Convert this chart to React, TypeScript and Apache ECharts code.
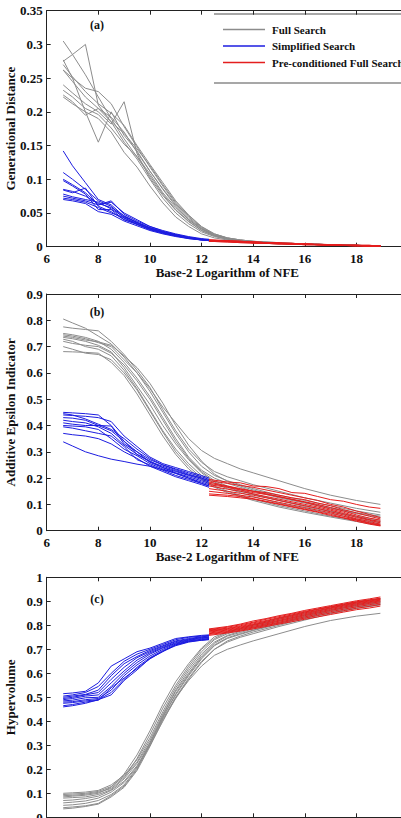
import React, { useEffect, useRef } from "react";
import * as echarts from "echarts";

// ---------- x grids (base-2 log of NFE) ----------
const xFull = [6.64, 7.0, 7.5, 8.0, 8.5, 9.0, 9.5, 10.0, 10.5, 11.0, 11.5, 12.0, 12.5, 13.0, 13.5, 14.0, 15.0, 16.0, 17.0, 18.0, 18.93];
const xSimp = [6.64, 7.0, 7.5, 8.0, 8.5, 9.0, 9.5, 10.0, 10.5, 11.0, 11.5, 12.0, 12.29];
const xPre = [12.29, 13.0, 13.5, 14.0, 14.5, 15.0, 15.5, 16.0, 16.5, 17.0, 17.5, 18.0, 18.5, 18.93];

const xTicks = [6, 8, 10, 12, 14, 16, 18, 20];
const seriesNames = ["Full Search", "Simplified Search", "Pre-conditioned Full Search"];
const panelLabels = ["(a)", "(b)", "(c)"];
const yTitles = ["Generational Distance", "Additive Epsilon Indicator", "Hypervolume"];
const xTitle = "Base-2 Logarithm of NFE";

// ---------- (a) Generational Distance ----------
const gdFull = [
  [0.305, 0.285, 0.255, 0.222, 0.190, 0.160, 0.133, 0.105, 0.078, 0.055, 0.038, 0.024, 0.016, 0.012, 0.009, 0.007, 0.005, 0.004, 0.003, 0.002, 0.001],
  [0.275, 0.285, 0.300, 0.210, 0.185, 0.155, 0.130, 0.100, 0.072, 0.050, 0.034, 0.022, 0.015, 0.011, 0.009, 0.007, 0.005, 0.004, 0.003, 0.002, 0.001],
  [0.277, 0.250, 0.200, 0.155, 0.200, 0.165, 0.142, 0.112, 0.085, 0.060, 0.040, 0.026, 0.017, 0.012, 0.009, 0.007, 0.005, 0.004, 0.003, 0.002, 0.001],
  [0.262, 0.250, 0.235, 0.230, 0.212, 0.178, 0.148, 0.118, 0.090, 0.064, 0.044, 0.028, 0.018, 0.013, 0.010, 0.008, 0.005, 0.004, 0.003, 0.002, 0.001],
  [0.240, 0.228, 0.212, 0.200, 0.182, 0.215, 0.138, 0.102, 0.076, 0.054, 0.037, 0.024, 0.016, 0.011, 0.009, 0.007, 0.005, 0.004, 0.003, 0.002, 0.001],
  [0.232, 0.222, 0.205, 0.196, 0.176, 0.152, 0.134, 0.108, 0.080, 0.058, 0.040, 0.026, 0.017, 0.012, 0.009, 0.007, 0.005, 0.004, 0.003, 0.002, 0.001],
  [0.222, 0.212, 0.200, 0.190, 0.170, 0.140, 0.118, 0.090, 0.065, 0.044, 0.030, 0.019, 0.013, 0.010, 0.008, 0.006, 0.004, 0.003, 0.002, 0.002, 0.001],
  [0.225, 0.215, 0.195, 0.205, 0.185, 0.168, 0.145, 0.120, 0.092, 0.066, 0.046, 0.029, 0.019, 0.013, 0.010, 0.008, 0.006, 0.004, 0.003, 0.002, 0.001],
  [0.262, 0.245, 0.222, 0.205, 0.192, 0.170, 0.140, 0.112, 0.086, 0.062, 0.042, 0.027, 0.017, 0.012, 0.009, 0.007, 0.005, 0.004, 0.003, 0.002, 0.001],
  [0.270, 0.252, 0.230, 0.212, 0.198, 0.180, 0.150, 0.122, 0.095, 0.068, 0.047, 0.030, 0.019, 0.013, 0.010, 0.008, 0.006, 0.004, 0.003, 0.002, 0.001],
];
const gdSimp = [
  [0.142, 0.120, 0.095, 0.070, 0.062, 0.045, 0.036, 0.028, 0.022, 0.018, 0.014, 0.011, 0.010],
  [0.110, 0.100, 0.085, 0.068, 0.060, 0.042, 0.035, 0.027, 0.021, 0.017, 0.013, 0.011, 0.010],
  [0.100, 0.092, 0.080, 0.062, 0.068, 0.048, 0.038, 0.030, 0.023, 0.018, 0.014, 0.011, 0.010],
  [0.098, 0.090, 0.078, 0.055, 0.055, 0.040, 0.034, 0.026, 0.020, 0.016, 0.013, 0.010, 0.009],
  [0.085, 0.082, 0.075, 0.064, 0.058, 0.046, 0.036, 0.028, 0.022, 0.017, 0.013, 0.011, 0.010],
  [0.084, 0.080, 0.087, 0.060, 0.052, 0.040, 0.033, 0.025, 0.020, 0.016, 0.012, 0.010, 0.009],
  [0.075, 0.072, 0.068, 0.062, 0.066, 0.050, 0.040, 0.030, 0.024, 0.019, 0.015, 0.012, 0.011],
  [0.072, 0.070, 0.066, 0.058, 0.050, 0.043, 0.033, 0.026, 0.021, 0.016, 0.013, 0.010, 0.009],
  [0.070, 0.068, 0.064, 0.052, 0.048, 0.038, 0.031, 0.024, 0.019, 0.015, 0.012, 0.010, 0.009],
  [0.078, 0.074, 0.070, 0.066, 0.056, 0.044, 0.036, 0.028, 0.022, 0.017, 0.013, 0.011, 0.010],
];
const gdPre = [
  [0.009, 0.008, 0.007, 0.006, 0.005, 0.005, 0.004, 0.004, 0.003, 0.003, 0.002, 0.002, 0.001, 0.001],
  [0.010, 0.008, 0.007, 0.006, 0.006, 0.005, 0.004, 0.004, 0.003, 0.003, 0.002, 0.002, 0.002, 0.001],
  [0.008, 0.007, 0.006, 0.006, 0.005, 0.004, 0.004, 0.003, 0.003, 0.002, 0.002, 0.002, 0.001, 0.001],
  [0.009, 0.008, 0.007, 0.007, 0.006, 0.005, 0.004, 0.004, 0.003, 0.003, 0.002, 0.002, 0.001, 0.001],
  [0.010, 0.009, 0.008, 0.007, 0.006, 0.005, 0.005, 0.004, 0.003, 0.003, 0.002, 0.002, 0.002, 0.001],
  [0.008, 0.008, 0.007, 0.006, 0.005, 0.005, 0.004, 0.003, 0.003, 0.002, 0.002, 0.001, 0.001, 0.001],
  [0.009, 0.008, 0.007, 0.006, 0.006, 0.005, 0.004, 0.004, 0.003, 0.002, 0.002, 0.002, 0.001, 0.001],
  [0.010, 0.009, 0.008, 0.007, 0.006, 0.006, 0.005, 0.004, 0.004, 0.003, 0.002, 0.002, 0.002, 0.001],
  [0.008, 0.007, 0.006, 0.005, 0.005, 0.004, 0.004, 0.003, 0.003, 0.002, 0.002, 0.001, 0.001, 0.001],
  [0.009, 0.008, 0.008, 0.007, 0.006, 0.005, 0.005, 0.004, 0.003, 0.003, 0.002, 0.002, 0.001, 0.001],
];

// ---------- (b) Additive Epsilon Indicator ----------
const aeFull = [
  [0.805, 0.790, 0.770, 0.740, 0.710, 0.660, 0.600, 0.540, 0.470, 0.410, 0.350, 0.305, 0.275, 0.255, 0.235, 0.220, 0.190, 0.160, 0.135, 0.115, 0.100],
  [0.775, 0.770, 0.765, 0.760, 0.720, 0.670, 0.610, 0.545, 0.460, 0.380, 0.310, 0.260, 0.225, 0.205, 0.190, 0.175, 0.150, 0.125, 0.105, 0.085, 0.070],
  [0.750, 0.745, 0.735, 0.720, 0.690, 0.640, 0.580, 0.510, 0.430, 0.350, 0.280, 0.230, 0.200, 0.180, 0.165, 0.150, 0.125, 0.105, 0.085, 0.065, 0.050],
  [0.745, 0.740, 0.730, 0.715, 0.700, 0.650, 0.600, 0.530, 0.450, 0.370, 0.300, 0.245, 0.210, 0.190, 0.175, 0.160, 0.135, 0.115, 0.095, 0.075, 0.060],
  [0.735, 0.730, 0.720, 0.705, 0.680, 0.620, 0.550, 0.480, 0.400, 0.330, 0.270, 0.220, 0.185, 0.165, 0.150, 0.138, 0.115, 0.095, 0.075, 0.055, 0.040],
  [0.728, 0.720, 0.700, 0.690, 0.665, 0.610, 0.540, 0.460, 0.380, 0.310, 0.255, 0.210, 0.180, 0.160, 0.145, 0.130, 0.105, 0.085, 0.065, 0.045, 0.030],
  [0.700, 0.690, 0.675, 0.670, 0.650, 0.600, 0.535, 0.455, 0.375, 0.300, 0.245, 0.200, 0.170, 0.150, 0.135, 0.120, 0.095, 0.075, 0.055, 0.040, 0.025],
  [0.681, 0.680, 0.678, 0.675, 0.640, 0.590, 0.520, 0.440, 0.360, 0.290, 0.235, 0.195, 0.165, 0.145, 0.130, 0.115, 0.090, 0.070, 0.052, 0.035, 0.020],
  [0.720, 0.712, 0.705, 0.700, 0.675, 0.630, 0.570, 0.500, 0.420, 0.340, 0.275, 0.225, 0.190, 0.170, 0.155, 0.140, 0.115, 0.092, 0.072, 0.052, 0.035],
  [0.740, 0.735, 0.725, 0.718, 0.705, 0.665, 0.620, 0.560, 0.485, 0.400, 0.325, 0.265, 0.215, 0.188, 0.170, 0.155, 0.130, 0.108, 0.088, 0.068, 0.055],
];
const aeSimp = [
  [0.450, 0.448, 0.445, 0.440, 0.400, 0.340, 0.300, 0.270, 0.250, 0.235, 0.220, 0.205, 0.195],
  [0.440, 0.438, 0.435, 0.430, 0.415, 0.360, 0.320, 0.280, 0.255, 0.240, 0.225, 0.210, 0.200],
  [0.430, 0.428, 0.420, 0.400, 0.380, 0.340, 0.290, 0.265, 0.240, 0.225, 0.210, 0.195, 0.185],
  [0.410, 0.405, 0.400, 0.400, 0.398, 0.330, 0.300, 0.260, 0.240, 0.220, 0.205, 0.190, 0.180],
  [0.400, 0.398, 0.395, 0.385, 0.350, 0.310, 0.285, 0.255, 0.235, 0.218, 0.200, 0.185, 0.175],
  [0.395, 0.390, 0.380, 0.370, 0.360, 0.320, 0.270, 0.250, 0.230, 0.210, 0.195, 0.180, 0.170],
  [0.370, 0.365, 0.360, 0.350, 0.330, 0.300, 0.275, 0.245, 0.225, 0.205, 0.190, 0.175, 0.165],
  [0.338, 0.322, 0.300, 0.285, 0.272, 0.263, 0.253, 0.245, 0.232, 0.218, 0.200, 0.180, 0.170],
  [0.420, 0.415, 0.410, 0.395, 0.370, 0.325, 0.290, 0.262, 0.245, 0.228, 0.212, 0.200, 0.190],
  [0.445, 0.440, 0.425, 0.405, 0.385, 0.350, 0.310, 0.275, 0.250, 0.232, 0.215, 0.200, 0.190],
];
const aePre = [
  [0.195, 0.185, 0.182, 0.170, 0.168, 0.160, 0.145, 0.142, 0.130, 0.118, 0.112, 0.100, 0.090, 0.085],
  [0.190, 0.180, 0.172, 0.165, 0.155, 0.145, 0.135, 0.125, 0.115, 0.100, 0.090, 0.075, 0.062, 0.050],
  [0.185, 0.170, 0.160, 0.150, 0.145, 0.135, 0.125, 0.118, 0.105, 0.095, 0.080, 0.068, 0.055, 0.045],
  [0.180, 0.168, 0.158, 0.150, 0.140, 0.128, 0.120, 0.110, 0.100, 0.088, 0.075, 0.060, 0.048, 0.040],
  [0.175, 0.165, 0.155, 0.145, 0.138, 0.130, 0.118, 0.108, 0.095, 0.082, 0.070, 0.055, 0.042, 0.035],
  [0.170, 0.158, 0.150, 0.140, 0.130, 0.120, 0.110, 0.100, 0.090, 0.078, 0.065, 0.050, 0.040, 0.030],
  [0.160, 0.150, 0.142, 0.135, 0.125, 0.115, 0.105, 0.095, 0.085, 0.072, 0.060, 0.045, 0.035, 0.025],
  [0.150, 0.142, 0.135, 0.128, 0.118, 0.108, 0.098, 0.088, 0.078, 0.068, 0.055, 0.042, 0.030, 0.022],
  [0.140, 0.135, 0.130, 0.122, 0.112, 0.102, 0.092, 0.082, 0.072, 0.062, 0.050, 0.040, 0.028, 0.020],
  [0.135, 0.130, 0.125, 0.120, 0.110, 0.100, 0.090, 0.080, 0.070, 0.058, 0.048, 0.036, 0.025, 0.018],
];

// ---------- (c) Hypervolume ----------
const hvFull = [
  [0.100, 0.102, 0.105, 0.112, 0.135, 0.175, 0.240, 0.330, 0.440, 0.540, 0.620, 0.690, 0.740, 0.765, 0.780, 0.795, 0.820, 0.845, 0.870, 0.890, 0.905],
  [0.095, 0.097, 0.100, 0.108, 0.128, 0.170, 0.230, 0.320, 0.430, 0.530, 0.610, 0.680, 0.730, 0.758, 0.775, 0.790, 0.818, 0.842, 0.865, 0.888, 0.900],
  [0.090, 0.092, 0.096, 0.104, 0.120, 0.165, 0.245, 0.345, 0.455, 0.550, 0.630, 0.700, 0.745, 0.770, 0.785, 0.800, 0.826, 0.850, 0.872, 0.895, 0.910],
  [0.085, 0.088, 0.092, 0.100, 0.125, 0.180, 0.260, 0.360, 0.470, 0.565, 0.640, 0.705, 0.752, 0.772, 0.788, 0.802, 0.830, 0.855, 0.878, 0.898, 0.912],
  [0.080, 0.082, 0.085, 0.095, 0.115, 0.160, 0.225, 0.310, 0.420, 0.510, 0.590, 0.660, 0.715, 0.745, 0.762, 0.778, 0.805, 0.832, 0.855, 0.878, 0.890],
  [0.070, 0.072, 0.078, 0.088, 0.112, 0.150, 0.215, 0.300, 0.400, 0.500, 0.580, 0.650, 0.700, 0.730, 0.750, 0.765, 0.795, 0.822, 0.848, 0.870, 0.885],
  [0.060, 0.063, 0.068, 0.080, 0.105, 0.145, 0.210, 0.310, 0.415, 0.515, 0.595, 0.665, 0.718, 0.748, 0.765, 0.780, 0.808, 0.835, 0.860, 0.882, 0.895],
  [0.050, 0.052, 0.058, 0.070, 0.095, 0.135, 0.205, 0.300, 0.410, 0.500, 0.570, 0.630, 0.675, 0.700, 0.718, 0.735, 0.765, 0.795, 0.820, 0.838, 0.850],
  [0.040, 0.043, 0.048, 0.058, 0.090, 0.130, 0.200, 0.305, 0.425, 0.525, 0.600, 0.672, 0.725, 0.755, 0.770, 0.785, 0.812, 0.838, 0.862, 0.885, 0.898],
  [0.035, 0.038, 0.045, 0.055, 0.085, 0.125, 0.195, 0.295, 0.405, 0.495, 0.575, 0.645, 0.700, 0.735, 0.755, 0.772, 0.800, 0.828, 0.852, 0.875, 0.888],
];
const hvSimp = [
  [0.515, 0.518, 0.525, 0.560, 0.630, 0.660, 0.690, 0.705, 0.725, 0.745, 0.752, 0.758, 0.760],
  [0.505, 0.510, 0.520, 0.545, 0.600, 0.650, 0.680, 0.700, 0.720, 0.740, 0.750, 0.755, 0.758],
  [0.500, 0.505, 0.512, 0.530, 0.590, 0.640, 0.670, 0.695, 0.715, 0.735, 0.745, 0.752, 0.755],
  [0.495, 0.500, 0.510, 0.520, 0.575, 0.625, 0.665, 0.690, 0.712, 0.732, 0.742, 0.750, 0.752],
  [0.490, 0.495, 0.505, 0.510, 0.560, 0.610, 0.655, 0.685, 0.708, 0.728, 0.740, 0.748, 0.750],
  [0.485, 0.488, 0.498, 0.500, 0.545, 0.600, 0.645, 0.680, 0.705, 0.725, 0.738, 0.745, 0.748],
  [0.480, 0.482, 0.490, 0.495, 0.530, 0.590, 0.635, 0.672, 0.700, 0.722, 0.735, 0.742, 0.745],
  [0.475, 0.478, 0.485, 0.490, 0.520, 0.575, 0.625, 0.665, 0.695, 0.718, 0.732, 0.740, 0.743],
  [0.465, 0.470, 0.480, 0.488, 0.540, 0.580, 0.620, 0.660, 0.692, 0.715, 0.730, 0.738, 0.742],
  [0.460, 0.465, 0.475, 0.490, 0.510, 0.570, 0.614, 0.662, 0.690, 0.719, 0.734, 0.737, 0.740],
];
const hvPre = [
  [0.785, 0.795, 0.805, 0.818, 0.828, 0.840, 0.850, 0.862, 0.872, 0.882, 0.892, 0.902, 0.910, 0.918],
  [0.782, 0.792, 0.802, 0.813, 0.825, 0.836, 0.847, 0.858, 0.868, 0.878, 0.888, 0.898, 0.906, 0.913],
  [0.780, 0.788, 0.798, 0.810, 0.820, 0.832, 0.843, 0.855, 0.866, 0.876, 0.886, 0.896, 0.904, 0.910],
  [0.777, 0.786, 0.795, 0.806, 0.817, 0.829, 0.840, 0.852, 0.862, 0.873, 0.883, 0.893, 0.901, 0.908],
  [0.775, 0.783, 0.792, 0.803, 0.813, 0.825, 0.836, 0.848, 0.859, 0.870, 0.880, 0.890, 0.898, 0.905],
  [0.772, 0.780, 0.789, 0.800, 0.810, 0.821, 0.832, 0.844, 0.855, 0.866, 0.876, 0.886, 0.895, 0.902],
  [0.768, 0.777, 0.786, 0.796, 0.806, 0.817, 0.828, 0.840, 0.851, 0.862, 0.872, 0.882, 0.891, 0.898],
  [0.765, 0.774, 0.783, 0.792, 0.802, 0.813, 0.824, 0.835, 0.846, 0.857, 0.867, 0.877, 0.886, 0.893],
  [0.762, 0.771, 0.779, 0.789, 0.799, 0.809, 0.820, 0.830, 0.841, 0.851, 0.861, 0.871, 0.879, 0.887],
  [0.758, 0.768, 0.776, 0.785, 0.795, 0.805, 0.815, 0.825, 0.835, 0.845, 0.855, 0.865, 0.872, 0.880],
];

const yMax = [0.35, 0.9, 1];
const yStep = [0.05, 0.1, 0.1];

const FONT = "'Liberation Serif', 'Times New Roman', serif";
const COLORS = ["#8c8c8c", "#1c1ce0", "#e41e1e"];

export default function App() {
  const ref = useRef<HTMLDivElement>(null);

  useEffect(() => {
    if (!ref.current) return;
    const chart = echarts.init(ref.current, undefined, { renderer: "svg" });

    const grids = [
      { left: 46.7, top: 10.7, width: 361.3, height: 236 },
      { left: 46.7, top: 294, width: 361.3, height: 236.7 },
      { left: 46.7, top: 577.3, width: 361.3, height: 240 },
    ].map((g) => ({ ...g, show: false, containLabel: false, outerBoundsMode: "none" }));

    const panels = [
      [gdFull, gdSimp, gdPre],
      [aeFull, aeSimp, aePre],
      [hvFull, hvSimp, hvPre],
    ];
    const xs = [xFull, xSimp, xPre];

    const xAxis: any[] = [];
    const yAxis: any[] = [];
    for (let i = 0; i < 3; i++) {
      xAxis.push({
        gridIndex: i,
        type: "value",
        min: xTicks[0],
        max: xTicks[xTicks.length - 1],
        interval: 2,
        position: "bottom",
        axisLine: { show: true, lineStyle: { color: "#222", width: 1 } },
        axisTick: { show: true, inside: true, length: 4, lineStyle: { color: "#222" } },
        splitLine: { show: false },
        axisLabel: {
          show: i < 2,
          margin: 5,
          fontSize: 13,
          fontWeight: "bold",
          fontFamily: FONT,
          color: "#111",
          showMaxLabel: true,
          showMinLabel: true,
        },
        name: i < 2 ? xTitle : "",
        nameLocation: "middle",
        nameGap: 19,
        nameMoveOverlap: false,
        nameTextStyle: { fontSize: 13, fontWeight: "bold", fontFamily: FONT, color: "#111" },
      });
      xAxis.push({
        gridIndex: i,
        type: "value",
        min: xTicks[0],
        max: xTicks[xTicks.length - 1],
        interval: 2,
        position: "top",
        axisLine: { show: true, lineStyle: { color: "#222", width: 1 } },
        axisTick: { show: true, inside: true, length: 4, lineStyle: { color: "#222" } },
        splitLine: { show: false },
        axisLabel: { show: false },
      });
      yAxis.push({
        gridIndex: i,
        type: "value",
        min: 0,
        max: yMax[i],
        interval: yStep[i],
        position: "left",
        axisLine: { show: true, lineStyle: { color: "#222", width: 1 } },
        axisTick: { show: true, inside: true, length: 4, lineStyle: { color: "#222" } },
        splitLine: { show: false },
        axisLabel: {
          margin: 4,
          fontSize: 13,
          fontWeight: "bold",
          fontFamily: FONT,
          color: "#111",
          formatter: (v: number) => String(parseFloat(v.toFixed(2))),
        },
        name: yTitles[i],
        nameLocation: "middle",
        nameGap: 30,
        nameMoveOverlap: false,
        nameTextStyle: { fontSize: 13, fontWeight: "bold", fontFamily: FONT, color: "#111" },
      });
    }

    const series: any[] = [];
    for (let p = 0; p < 3; p++) {
      for (let g = 0; g < 3; g++) {
        panels[p][g].forEach((run) => {
          series.push({
            type: "line",
            name: seriesNames[g],
            xAxisIndex: p * 2,
            yAxisIndex: p,
            data: xs[g].map((x, k) => [x, run[k]]),
            symbol: "none",
            showSymbol: false,
            silent: true,
            lineStyle: { width: 1, color: COLORS[g] },
            itemStyle: { color: COLORS[g] },
            z: 2 + g,
          });
        });
      }
    }

    const graphic: any[] = [
      { type: "line", shape: { x1: 214, y1: 14, x2: 412, y2: 14 }, style: { stroke: "#8a8a8a", lineWidth: 1.5 } },
      { type: "line", shape: { x1: 214, y1: 83, x2: 412, y2: 83 }, style: { stroke: "#8a8a8a", lineWidth: 1.5 } },
    ];
    const labelY = [25, 312, 599];
    panelLabels.forEach((t, i) => {
      graphic.push({
        type: "text",
        x: 97,
        y: labelY[i],
        style: { text: t, fill: "#111", font: `bold 12px ${FONT}`, align: "center", verticalAlign: "middle" },
      });
    });

    chart.setOption({
      animation: false,
      backgroundColor: "#fff",
      grid: grids,
      xAxis,
      yAxis,
      series,
      graphic,
      legend: {
        data: seriesNames,
        orient: "vertical",
        left: 218,
        top: 19,
        icon: "rect",
        itemWidth: 42,
        itemHeight: 1.5,
        itemGap: 5.5,
        selectedMode: false,
        textStyle: { fontSize: 11, fontWeight: "bold", fontFamily: FONT, color: "#111", padding: [0, 0, 0, 2] },
      },
    });

    return () => chart.dispose();
  }, []);

  return (
    <div style={{ position: "fixed", left: 0, top: 0, width: 401, height: 818, overflow: "hidden", background: "#fff" }}>
      <div ref={ref} style={{ width: 412, height: 818 }} />
    </div>
  );
}
